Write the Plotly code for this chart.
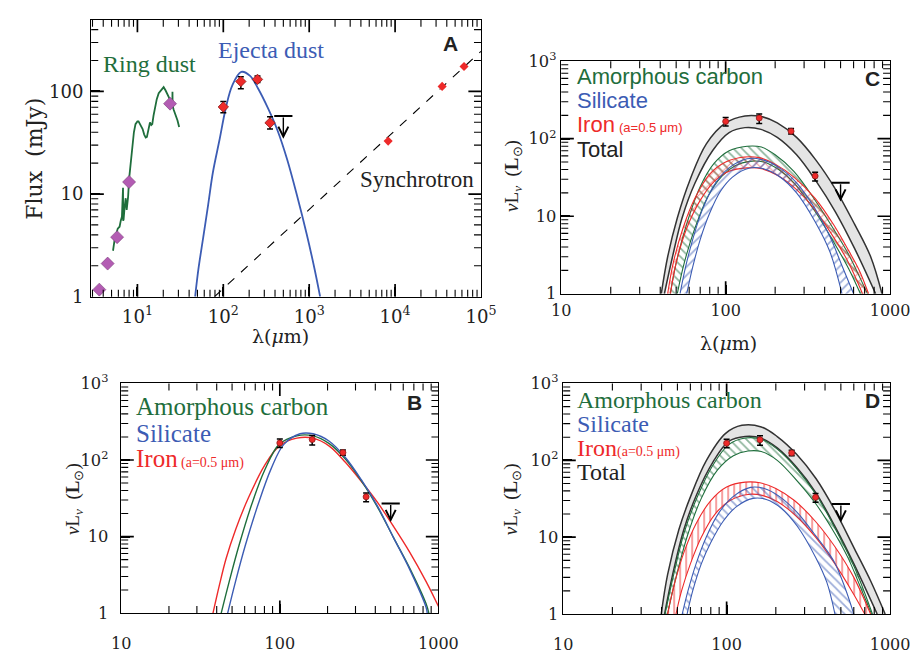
import numpy as np
import plotly.graph_objects as go

W, H = 912, 654
SERIF = "Liberation Serif"
WSERIF = "DejaVu Serif"
SANS = "Liberation Sans"
GREEN = "#1f6e3c"
BLUE = "#3c5cb4"
RED = "#ee2a2a"
PURPLE = "#b35cb3"

# ---------------- Panel A data ----------------
ring_phot_wl = [3.6, 4.5, 5.8, 8.0, 24.0]
ring_phot_flux = [1.17, 2.1, 3.8, 13.1, 76]

ring_spec_wl = [5.2, 5.4, 5.9, 6.2, 6.4, 6.6, 6.8, 6.82, 6.9, 7.1, 7.3, 7.5, 7.65, 7.8, 8.0,
                8.4, 8.7, 9.1, 9.5, 10.0, 10.3, 10.8, 11.5, 12.0, 12.5, 12.9, 13.4, 14.0,
                14.5, 14.9, 15.4, 15.9, 16.8, 17.7, 19.0, 20.2, 21.3, 22.5, 23.5, 24.6,
                25.5, 25.6, 25.7, 26.5, 28.0, 29.3, 30.6]
ring_spec_flux = [2.8, 3.5, 4.6, 4.8, 5.5, 6.0, 11.5, 5.5, 5.6, 7.5, 9.1, 7.0, 7.9, 9.5, 14.0,
                  22, 29, 40, 48, 51, 51, 48, 43, 38, 35.5, 36, 41.6, 49.9,
                  47, 48, 58, 69, 84, 96, 104, 110, 102, 94, 86, 78,
                  73, 99, 72, 66, 59, 52, 45]

ejecta_wl = [47, 51.3, 58.5, 66.6, 75.7, 90.1, 107, 127, 162, 205, 254, 330, 428, 554, 719, 933, 1156, 1340]
ejecta_flux = [1, 1.85, 3.82, 7.86, 16.3, 33.4, 69, 114, 155, 142, 106.7, 69, 41.6, 21.7, 9.78, 4.1, 1.85, 1]

sync_line_wl = [79, 100000]
sync_line_flux = [1, 246]
sync_pts_wl = [8300, 35300, 63500]
sync_pts_flux = [32.8, 112, 175]

a_obs_wl = [100, 160, 250, 350]
a_obs_flux = [70.6, 125, 131, 49.4]
a_obs_hi = [80, 139, 141, 56.5]
a_obs_lo = [62, 106, 122, 43]
a_ul_wl = [500]
a_ul_top = [57.5]
a_ul_tip = [34.6]

# ---------------- Observed points for B, C, D ----------------
obs_wl = [100, 160, 250, 350]
obs_L = [167, 185, 125, 33]
obs_L_hi = [188, 209, 135, 37]
obs_L_lo = [146, 157, 115, 28.5]
ul_wl = [500]
ul_top = [27]
ul_tip = [15.5]

# ---------------- Panel B curves ----------------
b_iron_wl = [37.9, 41.7, 45.8, 52.6, 63.5, 80.2, 99, 128, 162, 205, 259, 327, 413, 522, 660, 835, 1005]
b_iron_L = [1, 2.37, 5.13, 12.3, 32.3, 85, 152, 193, 193, 152, 93.5, 52.4, 27.9, 13.5, 6.23, 2.6, 1.2]
b_carbon_wl = [42.7, 48, 55.2, 66.6, 80.2, 99, 128, 162, 205, 259, 327, 413, 522, 660, 835, 870]
b_carbon_L = [1, 2.6, 7.57, 26.6, 73.5, 160, 207, 207, 164, 103, 53.4, 24.2, 9.63, 3.84, 1.33, 1]
b_sil_wl = [46.9, 52.6, 60.5, 73.1, 88.2, 106, 134, 162, 205, 259, 327, 413, 522, 660, 835, 850]
b_sil_L = [1, 2.6, 7.57, 26.6, 77.2, 160, 220, 220, 176, 108, 55, 25, 9.6, 3.7, 1.2, 1]

# ---------------- Panel C bands ----------------
c_tot_hi_wl = [40.6, 44.4, 50.8, 60.9, 76.3, 100, 131, 164, 206, 270, 354, 464, 608, 762, 893]
c_tot_hi_L = [1, 3.0, 9.5, 30, 86, 160, 197, 194, 160, 104, 53, 22.6, 7.9, 3.0, 1]
c_tot_lo_wl = [42.4, 47.5, 54.3, 65.2, 83.6, 105, 131, 164, 206, 270, 354, 464, 608, 817]
c_tot_lo_L = [1, 3.0, 9.5, 27, 71, 120, 139, 132, 104, 62, 28.6, 11.5, 3.85, 1]
c_car_hi_wl = [46, 50, 58, 70, 85, 105, 135, 165, 200, 260, 354, 450, 556, 700, 729]
c_car_hi_L = [1, 2.5, 8, 24, 48, 70, 80, 78, 62, 38, 15.5, 7, 3.3, 1.2, 1]
c_car_lo_wl = [50.8, 56, 65, 78, 95, 115, 140, 170, 210, 260, 350, 450, 560, 660]
c_car_lo_L = [1, 2.5, 7, 18, 33, 45, 51, 50, 40, 27, 11.5, 4.8, 2.1, 1]
c_iron_hi_wl = [44.4, 48, 55, 65, 80, 100, 130, 160, 200, 260, 350, 450, 560, 650, 740]
c_iron_hi_L = [1, 2.5, 7, 17, 35, 50, 58, 57, 47, 32, 17, 8, 3.6, 2, 1]
c_iron_lo_wl = [46.2, 50, 58, 70, 85, 105, 135, 165, 210, 270, 350, 450, 560, 680]
c_iron_lo_L = [1, 2.5, 7, 16, 28, 38, 42, 41, 33, 22, 12, 5.5, 2.5, 1]
c_sil_hi_wl = [52.8, 57, 63, 72, 85, 105, 135, 165, 210, 270, 350, 430, 510, 600]
c_sil_hi_L = [1, 2.2, 5, 12, 25, 42, 55, 54, 43, 27, 12.5, 5.5, 2.3, 1]
c_sil_lo_wl = [58, 63, 70, 80, 93, 110, 140, 170, 210, 270, 350, 430, 510]
c_sil_lo_L = [1, 2.2, 5, 11, 21, 32, 42, 41, 33, 20, 8.5, 3.5, 1]

# ---------------- Panel D bands ----------------
d_tot_hi_wl = [39.8, 43.5, 51, 59.8, 75.1, 98.6, 124, 163, 204, 268, 352, 461, 607, 762, 933]
d_tot_hi_L = [1, 3.24, 12.5, 32.7, 99, 224, 285, 272, 204, 120, 58, 22.2, 7, 2.67, 1]
d_tot_lo_wl = [41.7, 46.7, 54.7, 65.6, 82.3, 103, 130, 163, 204, 268, 352, 461, 607, 834]
d_tot_lo_L = [1, 3.24, 12.5, 36, 94, 176, 204, 194, 145, 81, 37.8, 13.7, 4.3, 1]
d_car_hi_wl = [42, 47, 55, 66, 82, 103, 130, 163, 204, 268, 352, 461, 607, 780]
d_car_hi_L = [1, 3, 11.5, 33, 85, 160, 195, 188, 140, 78, 36, 13, 4, 1]
d_car_lo_wl = [43.5, 49, 58, 70, 88, 110, 135, 163, 204, 268, 352, 461, 555, 650, 770]
d_car_lo_L = [1, 3, 11, 32, 75, 115, 132, 130, 100, 55, 27, 11, 5.3, 2.4, 1]
d_iron_hi_wl = [43.5, 48, 55, 65, 80, 100, 130, 160, 200, 260, 350, 460, 600, 760]
d_iron_hi_L = [1, 2.5, 6.5, 15, 30, 45, 52, 51, 43, 30, 16, 7.5, 3, 1]
d_iron_lo_wl = [49, 53, 60, 70, 85, 105, 135, 165, 205, 265, 350, 460, 600, 700]
d_iron_lo_L = [1, 2, 4.5, 10, 20, 30, 36, 35, 29, 19, 10, 4.5, 1.8, 1]
d_sil_hi_wl = [53.5, 58, 65, 75, 90, 110, 140, 170, 210, 270, 350, 450, 530, 600]
d_sil_hi_L = [1, 2, 4.5, 10, 21, 34, 44.5, 43, 34, 21, 10.5, 5, 2.2, 1]
d_sil_lo_wl = [57.3, 62, 70, 80, 95, 115, 145, 175, 215, 270, 350, 410, 460]
d_sil_lo_L = [1, 2, 4.5, 8.5, 16, 25, 32, 31, 24, 14, 5.5, 2.6, 1]

fig = go.Figure()


def dx(a, b):
    return [a / W, b / W]


def dy(top, bottom):
    return [1 - bottom / H, 1 - top / H]


def decade_ticks(lo, hi):
    """Major (decades) and minor (2..9 x decade) tick values strictly inside (lo, hi)."""
    d0, d1 = int(np.floor(np.log10(lo))), int(np.ceil(np.log10(hi)))
    major = [10.0 ** d for d in range(d0, d1 + 1) if lo < 10.0 ** d < hi]
    minor = [k * 10.0 ** d for d in range(d0, d1 + 1) for k in range(2, 10) if lo < k * 10.0 ** d < hi]
    return major, minor


def axis(domain, rng, anchor, size, fmt, standoff=0, alias=None):
    d = dict(type="log", domain=domain, range=rng, anchor=anchor,
             showline=True, linecolor="black", linewidth=1.4, mirror=True,
             ticks="inside", ticklen=9, tickwidth=1.8, tickcolor="black",
             tickmode="linear", tick0=0, dtick=1, exponentformat=fmt,
             showgrid=False, zeroline=False, ticklabelstandoff=standoff,
             tickfont=dict(family=WSERIF, size=size, color="#222"))
    if alias:
        d["labelalias"] = alias
    return d


def tick_marks(xa, ya, xr, yr):
    """Inside tick marks on all four sides, drawn as clipped line markers on the frame."""
    xmaj, xmin_ = decade_ticks(*xr)
    ymaj, ymin_ = decade_ticks(*yr)
    for vals, ln, wd in ((xmaj, 18, 1.7), (xmin_, 10, 1.1)):
        fig.add_trace(go.Scatter(x=vals + vals, y=[yr[0]] * len(vals) + [yr[1]] * len(vals),
                                 mode="markers", xaxis=xa, yaxis=ya, cliponaxis=True,
                                 marker=dict(symbol="line-ns", size=ln, line=dict(color="black", width=wd)),
                                 showlegend=False, hoverinfo="skip"))
    for vals, ln, wd in ((ymaj, 18, 1.7), (ymin_, 10, 1.1)):
        fig.add_trace(go.Scatter(x=[xr[0]] * len(vals) + [xr[1]] * len(vals), y=vals + vals,
                                 mode="markers", xaxis=xa, yaxis=ya, cliponaxis=True,
                                 marker=dict(symbol="line-ew", size=ln, line=dict(color="black", width=wd)),
                                 showlegend=False, hoverinfo="skip"))


def line(x, y, xa, ya, color, width=1.3, dash="solid", shape="spline"):
    fig.add_trace(go.Scatter(x=x, y=y, mode="lines", xaxis=xa, yaxis=ya,
                             line=dict(color=color, width=width, dash=dash, shape=shape, smoothing=1.0),
                             showlegend=False, hoverinfo="skip"))


def band(xa, ya, wl_lo, L_lo, wl_hi, L_hi, color, pattern=None, solid=None, width=1.1):
    line(wl_lo, L_lo, xa, ya, color, width)
    kw = dict(x=wl_hi, y=L_hi, mode="lines", xaxis=xa, yaxis=ya,
              line=dict(color=color, width=width, shape="spline", smoothing=1.0),
              showlegend=False, hoverinfo="skip", fill="tonexty")
    if solid:
        kw["fillcolor"] = solid
    else:
        kw["fillcolor"] = "rgba(0,0,0,0)"
        kw["fillpattern"] = dict(shape=pattern, fgcolor=color, bgcolor="rgba(0,0,0,0)",
                                 size=6, solidity=0.3, fillmode="overlay")
    fig.add_trace(go.Scatter(**kw))


def obs(xa, ya, wl, val, hi, lo, symbol, size):
    fig.add_trace(go.Scatter(x=wl, y=val, mode="markers", xaxis=xa, yaxis=ya,
                             marker=dict(symbol=symbol, size=size, color=RED, line=dict(color="#8b1a1a", width=0.8)),
                             error_y=dict(type="data", symmetric=False,
                                          array=[h - v for h, v in zip(hi, val)],
                                          arrayminus=[v - l for v, l in zip(val, lo)],
                                          color="black", thickness=1.5, width=3),
                             showlegend=False, hoverinfo="skip"))


def upper_limit(xa, ya, wl, top, tip):
    fig.add_trace(go.Scatter(x=wl, y=top, mode="markers", xaxis=xa, yaxis=ya,
                             marker=dict(symbol="line-ew", size=13, line=dict(color="black", width=2)),
                             showlegend=False, hoverinfo="skip"))
    fig.add_annotation(x=np.log10(wl[0]), y=np.log10(tip[0]), ax=np.log10(wl[0]), ay=np.log10(top[0]),
                       xref=xa, yref=ya, axref=xa, ayref=ya, text="", showarrow=True,
                       arrowhead=5, arrowsize=1.4, arrowwidth=1.4, arrowcolor="black")


def txt(s, x, y, size, color="black", family=SERIF, xanchor="center", angle=0):
    fig.add_annotation(text=s, x=x / W, y=1 - y / H, xref="paper", yref="paper", showarrow=False,
                       font=dict(family=family, size=size, color=color),
                       xanchor=xanchor, yanchor="middle", textangle=angle)


# axis ranges (data units)
A_X = (2.9, 1e5)
A_Y = (1.0, 500.0)
L_X = (10.0, 1000.0)
L_Y = (1.0, 1000.0)

# ---------------- Panel A ----------------
line(sync_line_wl, sync_line_flux, "x", "y", "black", 1.1, dash="dash", shape="linear")
line(ejecta_wl, ejecta_flux, "x", "y", BLUE, 1.8)
line(ring_spec_wl, ring_spec_flux, "x", "y", GREEN, 1.8, shape="linear")
fig.add_trace(go.Scatter(x=ring_phot_wl, y=ring_phot_flux, mode="markers", xaxis="x", yaxis="y",
                         marker=dict(symbol="diamond", size=10, color=PURPLE, line=dict(color="#7a3a7a", width=0.6)),
                         showlegend=False, hoverinfo="skip"))
fig.add_trace(go.Scatter(x=sync_pts_wl, y=sync_pts_flux, mode="markers", xaxis="x", yaxis="y",
                         marker=dict(symbol="diamond", size=7, color=RED),
                         showlegend=False, hoverinfo="skip"))
obs("x", "y", a_obs_wl, a_obs_flux, a_obs_hi, a_obs_lo, "diamond", 8)
upper_limit("x", "y", a_ul_wl, a_ul_top, a_ul_tip)
tick_marks("x", "y", A_X, A_Y)

# ---------------- Panel C ----------------
band("x2", "y2", c_tot_lo_wl, c_tot_lo_L, c_tot_hi_wl, c_tot_hi_L, "#333333", solid="#e4e4e4", width=1.5)
band("x2", "y2", c_car_lo_wl, c_car_lo_L, c_car_hi_wl, c_car_hi_L, GREEN, pattern="\\")
band("x2", "y2", c_iron_lo_wl, c_iron_lo_L, c_iron_hi_wl, c_iron_hi_L, RED, pattern="x")
band("x2", "y2", c_sil_lo_wl, c_sil_lo_L, c_sil_hi_wl, c_sil_hi_L, BLUE, pattern="/")
obs("x2", "y2", obs_wl, obs_L, obs_L_hi, obs_L_lo, "circle", 6)
upper_limit("x2", "y2", ul_wl, ul_top, ul_tip)
tick_marks("x2", "y2", L_X, L_Y)

# ---------------- Panel B ----------------
line(b_iron_wl, b_iron_L, "x3", "y3", RED, 1.4)
line(b_carbon_wl, b_carbon_L, "x3", "y3", GREEN, 1.4)
line(b_sil_wl, b_sil_L, "x3", "y3", BLUE, 1.4)
obs("x3", "y3", obs_wl, obs_L, obs_L_hi, obs_L_lo, "circle", 6)
upper_limit("x3", "y3", ul_wl, ul_top, ul_tip)
tick_marks("x3", "y3", L_X, L_Y)

# ---------------- Panel D ----------------
band("x4", "y4", d_tot_lo_wl, d_tot_lo_L, d_tot_hi_wl, d_tot_hi_L, "#333333", solid="#e4e4e4", width=1.5)
band("x4", "y4", d_car_lo_wl, d_car_lo_L, d_car_hi_wl, d_car_hi_L, GREEN, pattern="\\")
band("x4", "y4", d_iron_lo_wl, d_iron_lo_L, d_iron_hi_wl, d_iron_hi_L, RED, pattern="|")
band("x4", "y4", d_sil_lo_wl, d_sil_lo_L, d_sil_hi_wl, d_sil_hi_L, BLUE, pattern="\\")
obs("x4", "y4", obs_wl, obs_L, obs_L_hi, obs_L_lo, "circle", 6)
upper_limit("x4", "y4", ul_wl, ul_top, ul_tip)
tick_marks("x4", "y4", L_X, L_Y)

# ---------------- Layout ----------------
lg = lambda r: [float(np.log10(r[0])), float(np.log10(r[1]))]
fig.update_layout(
    width=W, height=H, margin=dict(l=0, r=0, t=0, b=0),
    paper_bgcolor="white", plot_bgcolor="white", showlegend=False,
    xaxis=axis(dx(84, 487), lg(A_X), "y", 14.5, "power", 4, {"10": "10<sup>1</sup>"}),
    yaxis=axis(dy(8, 295), lg(A_Y), "x", 18, "none", 3),
    xaxis2=axis(dx(570, 910), lg(L_X), "y2", 16, "none", 2),
    yaxis2=axis(dy(51, 292), lg(L_Y), "x2", 13, "power", 1),
    xaxis3=axis(dx(115, 443), lg(L_X), "y3", 16, "none", 16),
    yaxis3=axis(dy(385, 623), lg(L_Y), "x3", 13, "power", 9),
    xaxis4=axis(dx(572, 910), lg(L_X), "y4", 16, "none", 16),
    yaxis4=axis(dy(385, 624), lg(L_Y), "x4", 13, "power", 1),
)

YT = "<i>ν</i>L<sub><i>ν</i></sub>  (<b>L</b><sub>⊙</sub>)"

# Panel A text
txt("Ring dust", 144, 54, 24, GREEN)
txt("Ejecta dust", 270, 39, 24, BLUE)
txt("Synchrotron", 421, 174, 23, "#222")
txt("<b>A</b>", 455, 33, 21, "#222", SANS)
txt("Flux  (mJy)", 26, 152, 22, "#222", WSERIF, angle=-90)
txt("λ(<i>μ</i>m)", 280, 336, 19, "#222", WSERIF)

# Panel C text
txt("Amorphous carbon", 584, 67, 22, GREEN, SANS, "left")
txt("Silicate", 584, 92, 22, BLUE, SANS, "left")
txt("Iron", 584, 117, 22, RED, SANS, "left")
txt("(a=0.5 μm)", 628, 120, 13, RED, SANS, "left")
txt("Total", 584, 143, 22, "#222", SANS, "left")
txt("<b>C</b>", 892, 69, 21, "#222", SANS)
txt(YT, 520, 170, 19, "#222", SERIF, angle=-90)
txt("λ(<i>μ</i>m)", 743, 343, 19, "#222", WSERIF)

# Panel B text
txt("Amorphous carbon", 128, 409, 25, GREEN, SERIF, "left")
txt("Silicate", 128, 437, 25, BLUE, SERIF, "left")
txt("Iron", 128, 463, 25, RED, SERIF, "left")
txt("(a=0.5 μm)", 175, 467, 14, RED, SERIF, "left")
txt("<b>B</b>", 418, 405, 21, "#222", SANS)
txt(YT, 66, 505, 19, "#222", SERIF, angle=-90)

# Panel D text
txt("Amorphous carbon", 584, 402, 24, GREEN, SERIF, "left")
txt("Silicate", 584, 427, 24, BLUE, SERIF, "left")
txt("Iron", 584, 452, 24, RED, SERIF, "left")
txt("(a=0.5 μm)", 626, 456, 14, RED, SERIF, "left")
txt("Total", 584, 477, 24, "#222", SERIF, "left")
txt("<b>D</b>", 892, 403, 21, "#222", SANS)
txt(YT, 519, 505, 19, "#222", SERIF, angle=-90)

fig.write_html("out.html")
